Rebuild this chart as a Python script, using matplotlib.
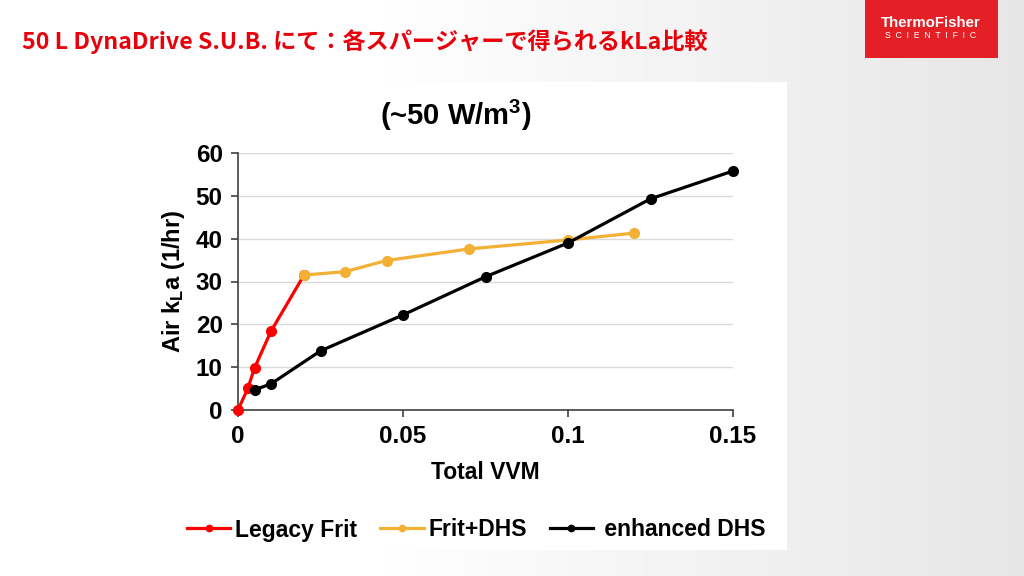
import matplotlib
matplotlib.use("Agg")
import matplotlib.pyplot as plt
import numpy as np
from matplotlib.patches import Rectangle

plt.rcParams['font.family'] = ['Liberation Sans', 'DejaVu Sans']
plt.rcParams['mathtext.fontset'] = 'custom'
plt.rcParams['mathtext.rm'] = 'Liberation Sans:bold'
plt.rcParams['mathtext.bf'] = 'Liberation Sans:bold'
plt.rcParams['mathtext.it'] = 'Liberation Sans:bold'

# ---- data ----
legacy_x = [0, 0.003, 0.005, 0.01, 0.02]
legacy_y = [0, 5.1, 9.8, 18.4, 31.5]
fritdhs_x = [0.02, 0.0325, 0.045, 0.07, 0.1, 0.12]
fritdhs_y = [31.5, 32.3, 34.9, 37.6, 39.7, 41.3]
enh_x = [0.005, 0.01, 0.025, 0.05, 0.075, 0.1, 0.125, 0.15]
enh_y = [4.7, 6.1, 13.8, 22.2, 31.1, 39.0, 49.3, 55.8]
xticks = [0, 0.05, 0.1, 0.15]
xticklabels = ['0', '0.05', '0.1', '0.15']
yticks = [0, 10, 20, 30, 40, 50, 60]
labels = ['Legacy Frit', 'Frit+DHS', ' enhanced DHS']
slide_title = '50 L DynaDrive S.U.B. にて：各スパージャーで得られるkLa比較'
chart_title = '(~50 W/m$^3$)'

W, H = 1024, 576
fig = plt.figure(figsize=(W / 100, H / 100), dpi=100)

# background gradient
bg = fig.add_axes([0, 0, 1, 1], zorder=-10)
gx = np.linspace(0, 1, 256)
g = np.clip((gx - 0.35) / 0.65, 0, 1)
vals = 1.0 - 0.10 * g
img = np.tile(vals, (64, 1))
bg.imshow(img, cmap='gray', vmin=0, vmax=1, aspect='auto', extent=[0, 1, 0, 1])
bg.set_xlim(0, 1); bg.set_ylim(0, 1)
bg.axis('off')

def fx(px):
    return px / W

def fy(py):
    return 1 - py / H

# white chart box
fig.patches.append(Rectangle((fx(150), fy(550)), fx(787) - fx(150), fy(82) - fy(550),
                             transform=fig.transFigure, facecolor='white', edgecolor='none', zorder=-5))

# logo
fig.patches.append(Rectangle((fx(865), fy(58)), fx(998) - fx(865), fy(0) - fy(58),
                             transform=fig.transFigure, facecolor='#e41f25', edgecolor='none', zorder=-4))
fig.text(fx(931), fy(23), 'ThermoFisher', color='white', fontsize=10.8, fontweight='bold',
         ha='center', va='center', family=['Liberation Sans', 'DejaVu Sans'])
fig.text(fx(931), fy(36), 'S  C  I  E  N  T  I  F  I  C', color='white', fontsize=6.3,
         ha='center', va='center', family=['Liberation Sans', 'DejaVu Sans'])

# slide title
fig.text(fx(22), fy(42), slide_title, color='#e8000b', fontsize=16.7, fontweight='bold',
         ha='left', va='center', family=['Noto Sans CJK JP', 'DejaVu Sans'])

ax = fig.add_axes([fx(238), fy(410), fx(733) - fx(238), fy(153) - fy(410)])
ax.plot(legacy_x, legacy_y, color='#ff0000', lw=2.3, marker='o', ms=7, label=labels[0], zorder=3, clip_on=False)
ax.plot(fritdhs_x, fritdhs_y, color='#f2b134', lw=2.3, marker='o', ms=7, label=labels[1], zorder=4, clip_on=False)
ax.plot(enh_x, enh_y, color='black', lw=2.3, marker='o', ms=7, label=labels[2], zorder=5, clip_on=False)

ax.set_xlim(0, 0.15)
ax.set_ylim(0, 60)
ax.set_xticks(xticks)
ax.set_xticklabels(xticklabels)
ax.set_yticks(yticks)
ax.grid(axis='y', color='#d9d9d9', lw=1)
ax.set_axisbelow(True)
for s in ['top', 'right']:
    ax.spines[s].set_visible(False)
for s in ['left', 'bottom']:
    ax.spines[s].set_color('#404040')
    ax.spines[s].set_linewidth(1.2)
ax.tick_params(axis='both', direction='out', length=5, width=1.2, color='#404040',
               labelsize=17.5, pad=6)
for lab in ax.get_xticklabels() + ax.get_yticklabels():
    lab.set_fontweight('bold')
ax.set_xlabel('Total VVM', fontsize=16.5, fontweight='bold', labelpad=9)
ax.set_ylabel(r'Air k$_\mathregular{L}$a (1/hr)', fontsize=17, fontweight='bold', labelpad=6)
ax.set_title(chart_title, fontsize=21, fontweight='bold', pad=20, x=0.44)

fig.legend(loc='center', bbox_to_anchor=(fx(476), fy(530)), ncol=3, frameon=False,
           prop={'size': 16.5, 'weight': 'bold'}, handlelength=1.9, handletextpad=0.2,
           columnspacing=1.0, markerscale=0.65)

fig.savefig('out.png', dpi=100)
